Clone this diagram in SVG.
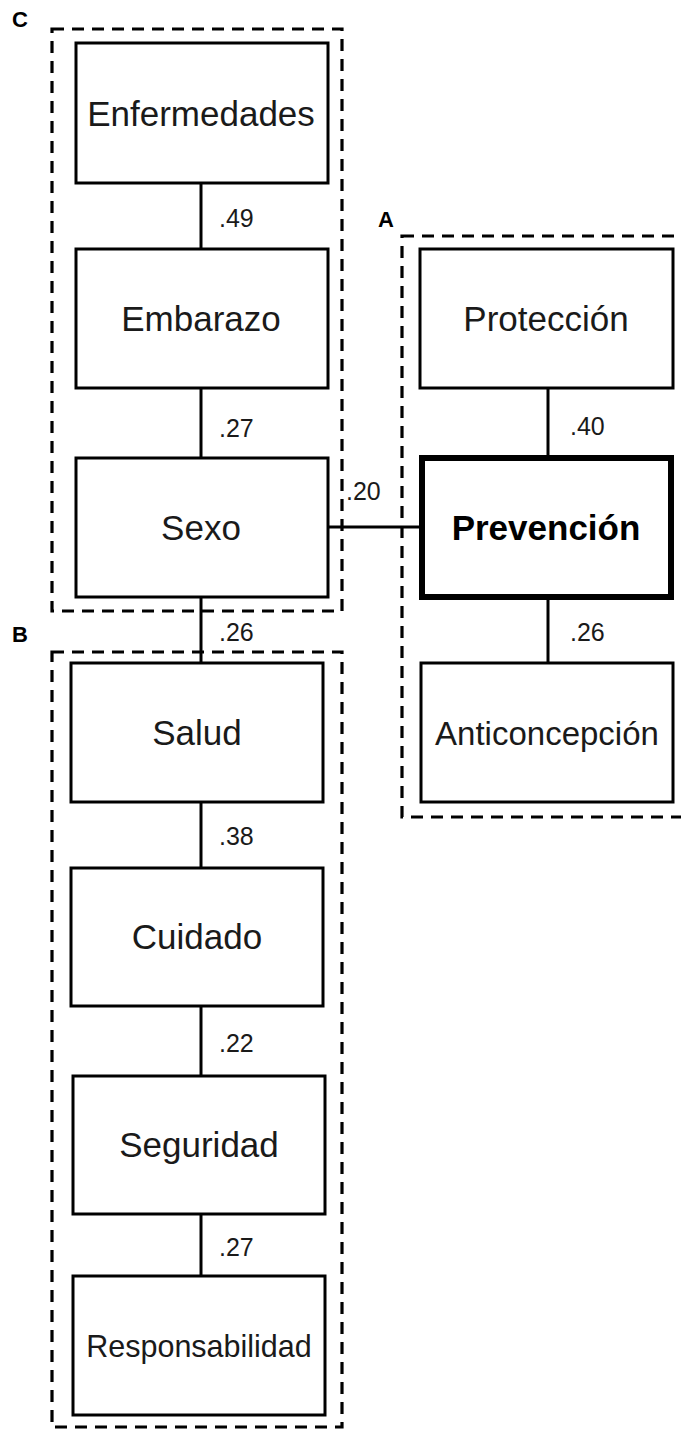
<svg xmlns="http://www.w3.org/2000/svg" width="681" height="1429" viewBox="0 0 681 1429">
<style>
.grp{fill:none;stroke:#000;stroke-width:3.2;stroke-dasharray:12 8}
.box{fill:#fff;stroke:#000;stroke-width:3}
.bold{fill:#fff;stroke:#000;stroke-width:6}
.t{font-family:"Liberation Sans",Arial,sans-serif;font-size:35px;fill:#1a1a1a;text-anchor:middle}
.tb{font-family:"Liberation Sans",Arial,sans-serif;font-size:35px;font-weight:bold;fill:#000;text-anchor:middle}
.lbl{font-family:"Liberation Sans",Arial,sans-serif;font-size:25px;fill:#1a1a1a}
.grpl{font-family:"Liberation Sans",Arial,sans-serif;font-size:22px;font-weight:bold;fill:#000}
.c{stroke:#000;stroke-width:3;fill:none}
</style>
<rect width="681" height="1429" fill="#fff"/>
<g id="groups">
<rect class="grp" x="52" y="29" width="290" height="582"/>
<rect class="grp" x="52" y="652" width="290" height="775"/>
<rect class="grp" x="402" y="236" width="310" height="581"/>
<text class="grpl" x="12" y="27">C</text>
<text class="grpl" x="12" y="642">B</text>
<text class="grpl" x="378" y="227">A</text>
</g>
<g id="connectors">
<line class="c" x1="201" y1="183" x2="201" y2="249"/>
<line class="c" x1="201" y1="388" x2="201" y2="458"/>
<line class="c" x1="201" y1="597" x2="201" y2="663"/>
<line class="c" x1="201" y1="802" x2="201" y2="868"/>
<line class="c" x1="201" y1="1006" x2="201" y2="1076"/>
<line class="c" x1="201" y1="1214" x2="201" y2="1276"/>
<line class="c" x1="328" y1="527" x2="422" y2="527"/>
<line class="c" x1="548" y1="388" x2="548" y2="458"/>
<line class="c" x1="548" y1="597" x2="548" y2="663"/>
<text class="lbl" x="219" y="227">.49</text>
<text class="lbl" x="219" y="437">.27</text>
<text class="lbl" x="219" y="641">.26</text>
<text class="lbl" x="219" y="845">.38</text>
<text class="lbl" x="219" y="1052">.22</text>
<text class="lbl" x="219" y="1256">.27</text>
<text class="lbl" x="346" y="500">.20</text>
<text class="lbl" x="570" y="435">.40</text>
<text class="lbl" x="570" y="641">.26</text>
</g>
<g id="enfermedades"><rect class="box" x="76" y="43" width="252" height="140"/><text class="t" x="201" y="126">Enfermedades</text></g>
<g id="embarazo"><rect class="box" x="76" y="249" width="252" height="139"/><text class="t" x="201" y="331">Embarazo</text></g>
<g id="sexo"><rect class="box" x="76" y="458" width="252" height="139"/><text class="t" x="201" y="540">Sexo</text></g>
<g id="salud"><rect class="box" x="71" y="663" width="252" height="139"/><text class="t" x="197" y="745">Salud</text></g>
<g id="cuidado"><rect class="box" x="71" y="868" width="252" height="138"/><text class="t" x="197" y="949">Cuidado</text></g>
<g id="seguridad"><rect class="box" x="73" y="1076" width="252" height="138"/><text class="t" x="199" y="1157">Seguridad</text></g>
<g id="responsabilidad"><rect class="box" x="73" y="1276" width="252" height="139"/><text class="t" x="199" y="1357" style="font-size:30.5px">Responsabilidad</text></g>
<g id="proteccion"><rect class="box" x="420" y="249" width="253" height="139"/><text class="t" x="546" y="331">Protección</text></g>
<g id="prevencion"><rect class="bold" x="422" y="458" width="249" height="139"/><text class="tb" x="546" y="540">Prevención</text></g>
<g id="anticoncepcion"><rect class="box" x="421" y="663" width="252" height="139"/><text class="t" x="547" y="745" style="font-size:33px">Anticoncepción</text></g>
</svg>
